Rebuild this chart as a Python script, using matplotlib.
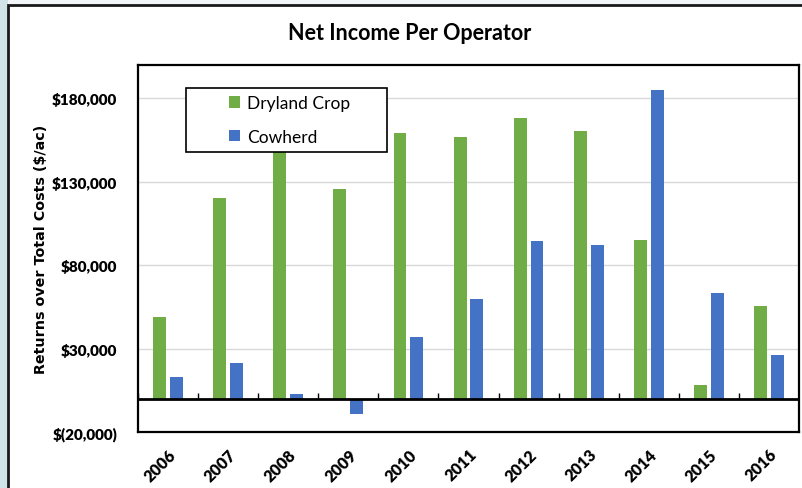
from matplotlib import pyplot as plt
from matplotlib.patches import Rectangle
from matplotlib.ticker import FuncFormatter
import numpy as np

# data
years = ['2006', '2007', '2008', '2009', '2010', '2011',
         '2012', '2013', '2014', '2015', '2016']
dryland = [49000, 120500, 160000, 125500, 159500, 157000,
           168500, 160500, 95000, 8200, 55600]
cowherd = [13000, 21500, 2700, -9200, 37000, 59600,
           94400, 92000, 185000, 63500, 26000]

green = '#70ad47'
blue = '#4472c4'
font = 'Lato'

fig = plt.figure(figsize=(8.03, 4.89), dpi=100)
fig.patch.set_facecolor('#f2f6f8')

# light blue strip at left and outer chart frame
W, H = 803.0, 489.0
fig.patches.append(Rectangle((0, 0), 8 / W, 1, transform=fig.transFigure,
                             facecolor='#cfe3e9', edgecolor='none', zorder=-2))
fig.patches.append(Rectangle((8 / W, -0.01), 1.0, 1 - 6 / H + 0.01,
                             transform=fig.transFigure, facecolor='white',
                             edgecolor='#1a1a1a', linewidth=2, zorder=-1))

ax = fig.add_axes([138 / W, (H - 433) / H, (799 - 138) / W, (433 - 66) / H])
ax.set_facecolor('white')

x = np.arange(len(years))
w = 0.215
ax.bar(x - 0.14, dryland, w, color=green, label='Dryland Crop', zorder=3)
ax.bar(x + 0.14, cowherd, w, color=blue, label='Cowherd', zorder=3)

ax.set_xlim(-0.5, len(years) - 0.5)
ax.set_ylim(-20000, 200000)

# gridlines and zero line
yt = np.arange(-20000, 200001, 50000)
ax.set_yticks(yt)
for v in yt[1:]:
    ax.axhline(v, color='#d9d9d9', lw=1, zorder=1)
ax.axhline(0, color='black', lw=2, zorder=4)

# small category separator ticks on the zero line
ax.vlines(np.arange(len(years) + 1) - 0.5, 0, 3200, color='black', lw=1, zorder=4)


def money(v, pos):
    if v < 0:
        return '$({:,.0f})'.format(-v)
    return '${:,.0f}'.format(v)


ax.yaxis.set_major_formatter(FuncFormatter(money))
ax.tick_params(axis='y', length=0, pad=15)
ax.set_xticks(x)
ax.set_xticklabels(years, rotation=45, ha='right', va='top', rotation_mode='anchor')
ax.tick_params(axis='x', length=0, pad=10)
for lab in ax.get_yticklabels():
    lab.set_fontfamily(font)
    lab.set_fontweight('heavy')
    lab.set_fontsize(11)
for lab in ax.get_xticklabels():
    lab.set_fontfamily(font)
    lab.set_fontweight('heavy')
    lab.set_fontsize(11.5)

for s in ax.spines.values():
    s.set_color('black')
    s.set_linewidth(1.6)

ax.set_ylabel('Returns over Total Costs ($/ac)', fontsize=10.3, fontweight='bold',
              family='DejaVu Sans', labelpad=3)

fig.text(410 / W, 1 - 33 / H, 'Net Income Per Operator', ha='center', va='center',
         fontsize=15.5, fontweight='bold', family=font)

# legend box drawn separately so the entries sit centred in a wider frame
bx0, bx1 = (186 - 138) / 661, (387 - 138) / 661
by0, by1 = (433 - 153) / 367, (433 - 89) / 367
ax.add_patch(Rectangle((bx0, by0), bx1 - bx0, by1 - by0, transform=ax.transAxes,
                       facecolor='white', edgecolor='black', lw=1.2, zorder=5))
leg = ax.legend(loc='center', bbox_to_anchor=((bx0 + bx1) / 2 + 0.005, (by0 + by1) / 2),
                frameon=False, borderaxespad=0,
                handlelength=0.65, handleheight=0.65, handletextpad=0.4,
                labelspacing=1.0, borderpad=0.3,
                prop={'family': font, 'size': 12.5})
leg.set_zorder(6)

plt.savefig('out.png', dpi=100, facecolor=fig.get_facecolor())
